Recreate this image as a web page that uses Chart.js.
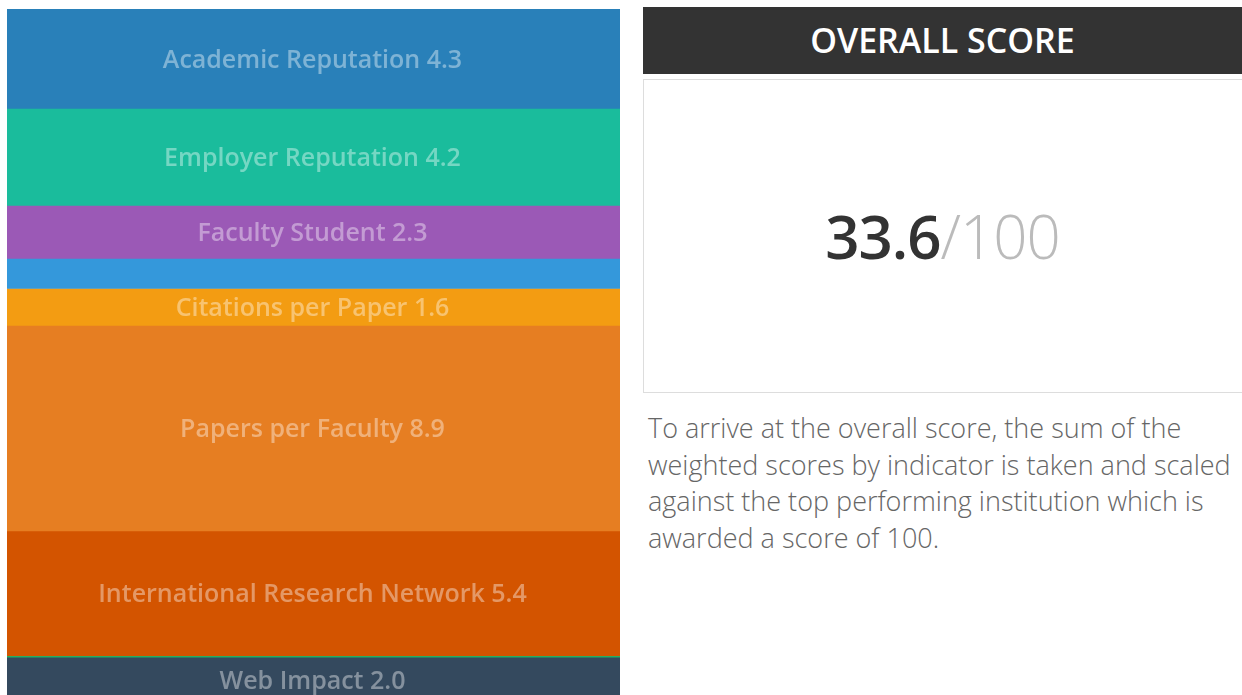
<!DOCTYPE html>
<html>
<head>
<meta charset="utf-8">
<script src="https://cdn.jsdelivr.net/npm/chart.js@4/dist/chart.umd.min.js"></script>
<style>
  html, body { margin: 0; padding: 0; background: #fff; overflow: hidden; }
  body { width: 1242px; height: 695px; position: relative; font-family: "Open Sans", sans-serif; }
  #chart-wrap { position: absolute; left: 7px; top: 9px; width: 613px; height: 686px; }
  #score-head {
    position: absolute; left: 643px; top: 7px; width: 599px; height: 67px;
    background: #333; color: #fff; font-weight: 600; font-size: 34px;
    text-align: center; line-height: 67px;
  }
  #score-box {
    position: absolute; left: 643px; top: 79px; width: 610px; height: 312px;
    border: 1px solid #ddd; box-sizing: content-box;
  }
  #score-value {
    position: absolute; left: 643px; width: 599px; top: 196px; text-align: center;
    font-size: 60px; line-height: 80px; letter-spacing: -1px;
  }
  #score-value b { color: #333; font-weight: 600; }
  #score-value span { color: #bbb; font-weight: 300; }
  #score-note {
    position: absolute; left: 648px; top: 410px; width: 594px;
    font-size: 27px; font-weight: 300; line-height: 36.7px; color: #666;
  }
</style>
</head>
<body>
<div id="chart-wrap"><canvas id="stack-chart"></canvas></div>
<div id="score-head">OVERALL SCORE</div>
<div id="score-box"></div>
<div id="score-value"><b id="score-total"></b><span>/100</span></div>
<div id="score-note">To arrive at the overall score, the sum of the weighted scores by indicator is taken and scaled against the top performing institution which is awarded a score of 100.</div>
<script>
const indicatorNames = [
  "Academic Reputation",
  "Employer Reputation",
  "Faculty Student",
  "International Faculty",
  "Citations per Paper",
  "Papers per Faculty",
  "International Research Network",
  "International Students",
  "Web Impact",
];
const indicatorScores = [4.3, 4.2, 2.3, 1.3, 1.6, 8.9, 5.4, 0.06, 2.0];
const indicatorColors = [
  "#2980b9", "#1abc9c", "#9b59b6", "#3498db", "#f39c12",
  "#e67e22", "#d35400", "#27ae60", "#34495e",
];
const overallScore = 33.6;
const visibleMax = 29.7;
const labelMinScore = 1.5;

document.getElementById("score-total").textContent = overallScore.toFixed(1);

// writes "Name value" in the middle of every segment that is tall enough
const segmentLabels = {
  id: "segmentLabels",
  afterDatasetsDraw(chart) {
    const { ctx, chartArea } = chart;
    ctx.save();
    ctx.beginPath();
    ctx.rect(chartArea.left, chartArea.top, chartArea.right - chartArea.left, chartArea.bottom - chartArea.top);
    ctx.clip();
    ctx.font = "600 25px 'Open Sans'";
    ctx.fillStyle = "rgba(255, 255, 255, 0.4)";
    ctx.textAlign = "center";
    ctx.textBaseline = "middle";
    chart.data.datasets.forEach((dataset, index) => {
      const value = dataset.data[0];
      if (value < labelMinScore) {
        return;
      }
      const bar = chart.getDatasetMeta(index).data[0];
      const midY = (bar.y + bar.base) / 2 + 2;
      ctx.fillText(`${dataset.label} ${value.toFixed(1)}`, bar.x - 1, midY);
    });
    ctx.restore();
  },
};

new Chart(document.getElementById("stack-chart"), {
  type: "bar",
  data: {
    labels: ["score"],
    datasets: indicatorNames.map((name, index) => ({
      label: name,
      data: [indicatorScores[index]],
      backgroundColor: indicatorColors[index],
      borderWidth: 0,
      categoryPercentage: 1,
      barPercentage: 1,
    })),
  },
  options: {
    responsive: true,
    maintainAspectRatio: false,
    animation: false,
    layout: { padding: 0 },
    plugins: {
      legend: { display: false },
      tooltip: { enabled: false },
    },
    scales: {
      x: { stacked: true, display: false },
      y: { stacked: true, display: false, reverse: true, min: 0, max: visibleMax },
    },
  },
  plugins: [segmentLabels],
});
</script>
</body>
</html>
